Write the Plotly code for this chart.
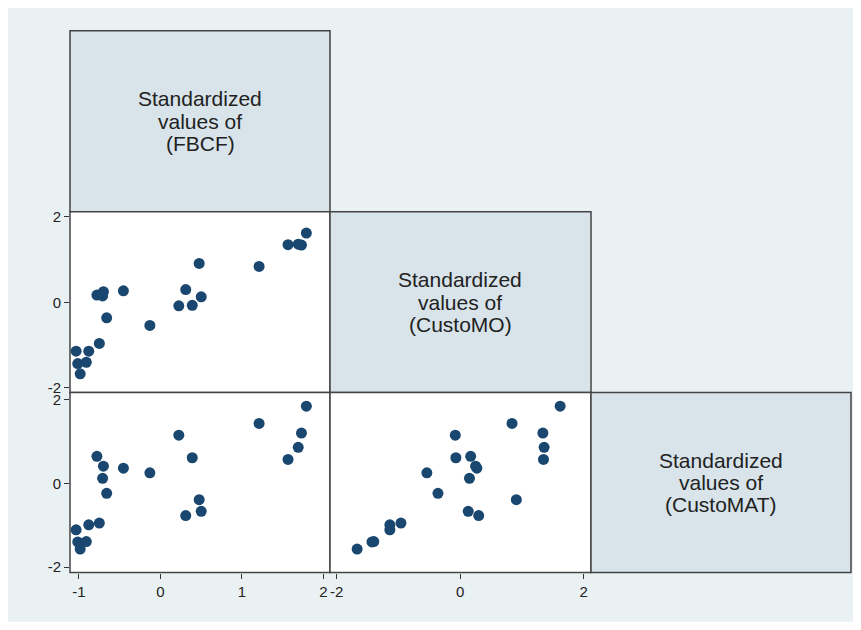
import plotly.graph_objects as go

# ---- data (standardized values) ----
fbcf = [-1.035, -1.015, -0.985, -0.91, -0.88, -0.75, -0.78, -0.70, -0.71, -0.66, -0.455,
        -0.13, 0.225, 0.31, 0.39, 0.475, 0.50, 1.21, 1.565, 1.69, 1.73, 1.79]
custo_mo = [-1.14, -1.43, -1.67, -1.40, -1.14, -0.96, 0.17, 0.25, 0.15, -0.36, 0.27,
            -0.54, -0.08, 0.30, -0.07, 0.91, 0.13, 0.84, 1.35, 1.36, 1.34, 1.62]
custo_mat = [-1.11, -1.40, -1.57, -1.39, -0.99, -0.95, 0.645, 0.41, 0.12, -0.24, 0.36,
             0.25, 1.15, -0.77, 0.61, -0.39, -0.67, 1.43, 0.57, 0.86, 1.20, 1.84]
var_labels = [["Standardized", "values of", "(FBCF)"],
              ["Standardized", "values of", "(CustoMO)"],
              ["Standardized", "values of", "(CustoMAT)"]]
fbcf_ticks = [-1, 0, 1, 2]
mo_ticks = [-2, 0, 2]
mat_ticks = [-2, 0, 2]

# page offset (html body margin) and figure size
OFF = 8
W, H = 861 - 2 * OFF, 630 - 2 * OFF
def px(x):
    return (x - OFF) / W
def py(y):
    return 1 - (y - OFF) / H

cols = [(70, 330), (330, 591), (591, 851)]
rows = [(27, 210), (210, 393), (393, 575)]

navy = "#1a476f"
bg = "#eaf1f3"
diag_fill = "#d8e4ea"
border = "#444444"
font_family = "Liberation Sans, Arial, Helvetica, sans-serif"

fig = go.Figure()
mk = dict(color=navy, size=11)
fig.add_trace(go.Scatter(x=fbcf, y=custo_mo, mode="markers", marker=mk, xaxis="x", yaxis="y", hoverinfo="x+y"))
fig.add_trace(go.Scatter(x=fbcf, y=custo_mat, mode="markers", marker=mk, xaxis="x2", yaxis="y2", hoverinfo="x+y"))
fig.add_trace(go.Scatter(x=custo_mo, y=custo_mat, mode="markers", marker=mk, xaxis="x3", yaxis="y3", hoverinfo="x+y"))

fbcf_range = [-1.11, 2.08]
mo_range = [-2.11, 2.12]
mat_range = [-2.13, 2.165]

def axis(dom, rng, ticks, show):
    d = dict(domain=dom, range=rng, showgrid=False, zeroline=False, showline=False,
             fixedrange=True, tickvals=ticks if show else [], ticktext=[str(t) for t in ticks] if show else [],
             ticks="outside" if show else "", ticklen=5, tickwidth=1, tickcolor="#333",
             showticklabels=show, tickfont=dict(family=font_family, size=15, color="#222"))
    return d

def xdom(c):
    return [px(cols[c][0]), px(cols[c][1])]
def ydom(r):
    return [py(rows[r][1]), py(rows[r][0])]

fig.update_layout(
    xaxis=axis(xdom(0), fbcf_range, fbcf_ticks, False) | dict(anchor="y"),
    yaxis=axis(ydom(1), mo_range, mo_ticks, True) | dict(anchor="x"),
    xaxis2=axis(xdom(0), fbcf_range, fbcf_ticks, True) | dict(anchor="y2"),
    yaxis2=axis(ydom(2), mat_range, mat_ticks, True) | dict(anchor="x2"),
    xaxis3=axis(xdom(1), mo_range, mo_ticks, True) | dict(anchor="y3"),
    yaxis3=axis(ydom(2), mat_range, mat_ticks, False) | dict(anchor="x3"),
)

shapes = []
# off-diagonal panels (white) and diagonal panels (blue-gray)
for r in range(3):
    for c in range(3):
        if c > r:
            continue
        fill = diag_fill if r == c else "white"
        shapes.append(dict(type="rect", xref="paper", yref="paper",
                           x0=px(cols[c][0]), x1=px(cols[c][1]), y0=py(rows[r][1]), y1=py(rows[r][0]),
                           fillcolor=fill, line=dict(color=border, width=1.5), layer="below"))
annotations = []
LINE = 22.5
for i in range(3):
    cx = (cols[i][0] + cols[i][1]) / 2
    cy = (rows[i][0] + rows[i][1]) / 2
    for k, line in enumerate(var_labels[i]):
        annotations.append(dict(xref="paper", yref="paper", x=px(cx), y=py(cy + (k - 1) * LINE),
                                text=line, showarrow=False, xanchor="center", yanchor="middle",
                                font=dict(family=font_family, size=21, color="#222")))

fig.update_layout(
    width=W, height=H, margin=dict(l=0, r=0, t=0, b=0),
    paper_bgcolor=bg, plot_bgcolor="rgba(0,0,0,0)",
    showlegend=False, shapes=shapes, annotations=annotations,
)
fig.write_html("out.html")
